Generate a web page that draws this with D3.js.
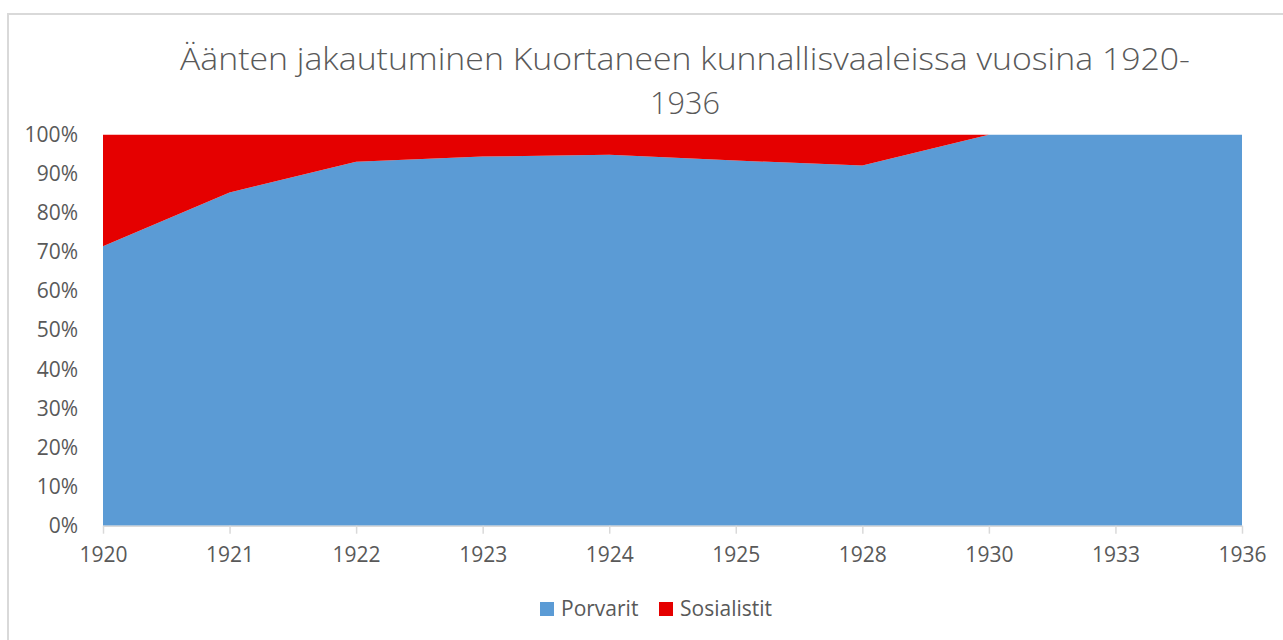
<!DOCTYPE html>
<html>
<head>
<meta charset="utf-8">
<script src="https://cdn.jsdelivr.net/npm/d3@7"></script>
<style>
  body { margin: 0; background: #fff; }
  text { font-family: "Open Sans", sans-serif; fill: #595959; }
</style>
</head>
<body>
<div id="chart"></div>
<script>
const years = ["1920", "1921", "1922", "1923", "1924", "1925", "1928", "1930", "1933", "1936"];
const porvarit = [71.5, 85.2, 93.1, 94.4, 94.9, 93.4, 92.1, 100, 100, 100];
const sosialistit = [28.5, 14.8, 6.9, 5.6, 5.1, 6.6, 7.9, 0, 0, 0];
const seriesNames = ["Porvarit", "Sosialistit"];
const seriesColors = ["#5b9bd5", "#e50000"];
const yTicks = [0, 10, 20, 30, 40, 50, 60, 70, 80, 90, 100];
const titleLines = ["Äänten jakautuminen Kuortaneen kunnallisvaaleissa vuosina 1920-", "1936"];

const W = 1283, H = 640;
const margin = {top: 134.7, left: 103, right: W - 1242, bottom: H - 525.7};
const labelSize = "21px";

const svg = d3.select("#chart").append("svg")
    .attr("width", W)
    .attr("height", H);

// chart frame
svg.append("rect")
    .attr("x", 8).attr("y", 14)
    .attr("width", W).attr("height", H)
    .attr("fill", "none")
    .attr("stroke", "#d9d9d9")
    .attr("stroke-width", 2);

// title
svg.append("text")
    .attr("x", 685).attr("y", 70)
    .attr("text-anchor", "middle")
    .attr("textLength", 1010)
    .attr("lengthAdjust", "spacingAndGlyphs")
    .style("font-size", "32px")
    .style("font-weight", 300)
    .text(titleLines[0]);
svg.append("text")
    .attr("x", 685).attr("y", 114)
    .attr("text-anchor", "middle")
    .attr("textLength", 70)
    .attr("lengthAdjust", "spacingAndGlyphs")
    .style("font-size", "32px")
    .style("font-weight", 300)
    .text(titleLines[1]);

const x = d3.scalePoint()
    .domain(years)
    .range([margin.left, W - margin.right]);

const y = d3.scaleLinear()
    .domain([0, 100])
    .range([H - margin.bottom, margin.top]);

const table = years.map(function (yr, i) {
    return {year: yr, Porvarit: porvarit[i], Sosialistit: sosialistit[i]};
});

const stacked = d3.stack().keys(seriesNames)(table);

const area = d3.area()
    .x(d => x(d.data.year))
    .y0(d => y(d[0]))
    .y1(d => y(Math.min(d[1], 100)));

svg.append("g")
    .selectAll("path")
    .data(stacked)
    .enter()
    .append("path")
    .attr("d", area)
    .attr("fill", (d, i) => seriesColors[i]);

// y axis labels
const yAxis = svg.append("g")
    .attr("transform", "translate(" + margin.left + ",0)")
    .call(d3.axisLeft(y).tickValues(yTicks).tickFormat(d => d + "%").tickSize(0).tickPadding(25));
yAxis.select(".domain").remove();
yAxis.selectAll("text")
    .style("font-size", labelSize)
    .attr("fill", "#595959")
    .attr("font-family", null);

// x axis
const xAxis = svg.append("g")
    .attr("transform", "translate(0," + (H - margin.bottom) + ")")
    .call(d3.axisBottom(x).tickSize(8).tickPadding(13).tickSizeOuter(0));
xAxis.select(".domain").attr("stroke", "#d9d9d9").attr("stroke-width", 1.5);
xAxis.selectAll(".tick line").attr("stroke", "#d9d9d9").attr("stroke-width", 1.5);
xAxis.selectAll("text")
    .style("font-size", labelSize)
    .attr("fill", "#595959")
    .attr("font-family", null);

// legend
const legendX = [540, 659];
const legend = svg.append("g");
seriesNames.forEach(function (name, i) {
    legend.append("rect")
        .attr("x", legendX[i]).attr("y", 602)
        .attr("width", 14).attr("height", 14)
        .attr("fill", seriesColors[i]);
    legend.append("text")
        .attr("x", legendX[i] + 21).attr("y", 616)
        .style("font-size", labelSize)
        .text(name);
});
</script>
</body>
</html>
